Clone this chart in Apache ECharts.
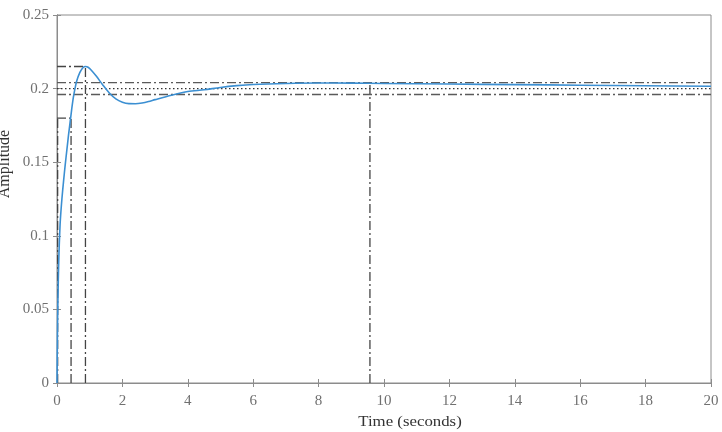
<!DOCTYPE html>
<html>
<head>
<meta charset="utf-8">
<script src="https://cdn.jsdelivr.net/npm/echarts@6/dist/echarts.min.js"></script>
<style>
html,body{margin:0;padding:0;background:#fff;}
#chart{width:722px;height:432px;}
</style>
</head>
<body>
<div id="chart"></div>
<script>
// ---- data ----
const time = [0, 0.01, 0.02, 0.04, 0.06, 0.08, 0.1, 0.15, 0.2, 0.25, 0.3, 0.35, 0.4, 0.45, 0.5, 0.55, 0.6, 0.7, 0.8, 0.87, 0.95, 1.05, 1.2, 1.4, 1.6, 1.8, 2.0, 2.2, 2.4, 2.6, 2.8, 3.0, 3.5, 4.0, 4.5, 5.0, 5.5, 6.0, 7.0, 8.0, 9.0, 10, 12, 14, 16, 18, 20];
const amplitude = [0, 0.025, 0.045, 0.07, 0.088, 0.1, 0.11, 0.125, 0.137, 0.148, 0.158, 0.168, 0.177, 0.186, 0.194, 0.2, 0.205, 0.211, 0.2143, 0.215, 0.2145, 0.2125, 0.2085, 0.2025, 0.197, 0.193, 0.1908, 0.1898, 0.1897, 0.1902, 0.1912, 0.1925, 0.1955, 0.198, 0.1992, 0.2008, 0.202, 0.2028, 0.2035, 0.2038, 0.2037, 0.2035, 0.2031, 0.2027, 0.2023, 0.2019, 0.2016];
const xTicks = [0, 2, 4, 6, 8, 10, 12, 14, 16, 18, 20];
const yTicks = [0, 0.05, 0.1, 0.15, 0.2, 0.25];
const riseStart = 0.02, riseEnd = 0.43, riseLevel = 0.18;
const peakTime = 0.87, peakValue = 0.215;
const settleTime = 9.57;
const finalValue = 0.2, bandUpper = 0.204, bandLower = 0.196;
const xLabel = 'Time (seconds)';
const yLabel = 'Amplitude';

const dashDot = [9, 3, 2, 3];
const refColor = '#444';
function ref(points, type, color, width) {
  return {
    type: 'line', data: points, symbol: 'none', silent: true, z: 2,
    lineStyle: {color: color || refColor, width: width || 1.3, type: type}
  };
}
const font = '"Liberation Serif","Times New Roman",serif';
const axisCol = '#8c8c8c';
const labelCol = '#707070';
const chart = echarts.init(document.getElementById('chart'), null, {renderer: 'canvas'});
const baseX = {
  type: 'value', min: xTicks[0], max: xTicks[xTicks.length - 1], interval: 2,
  splitLine: {show: false},
  axisLine: {show: true, lineStyle: {color: axisCol, width: 1}},
  axisTick: {show: true, inside: true, length: 4, lineStyle: {color: axisCol}},
};
const baseY = {
  type: 'value', min: yTicks[0], max: yTicks[yTicks.length - 1], interval: 0.05,
  splitLine: {show: false},
  axisLine: {show: true, lineStyle: {color: axisCol, width: 1}},
  axisTick: {show: true, inside: true, length: 4, lineStyle: {color: axisCol}},
};
chart.setOption({
  animation: false,
  backgroundColor: '#fff',
  grid: {left: 57, right: 11, top: 15, bottom: 49, show: true, borderColor: axisCol, borderWidth: 1},
  xAxis: [
    Object.assign({}, baseX, {position: 'bottom', axisLabel: {color: labelCol, fontFamily: font, fontSize: 15, margin: 11}}),
    Object.assign({}, baseX, {position: 'top', axisLabel: {show: false}})
  ],
  yAxis: [
    Object.assign({}, baseY, {position: 'left', axisLabel: {color: labelCol, fontFamily: font, fontSize: 15, margin: 8}}),
    Object.assign({}, baseY, {position: 'right', axisLabel: {show: false}})
  ],
  graphic: [
    {type: 'text', x: 410, y: 422, scaleX: 1.12, style: {text: xLabel, fill: '#333', font: '15px ' + font, align: 'center', verticalAlign: 'middle'}},
    {type: 'text', x: 5, y: 164, rotation: Math.PI / 2, style: {text: yLabel, fill: '#333', font: '16px ' + font, align: 'center', verticalAlign: 'middle'}}
  ],
  series: [
    ref([[xTicks[0], bandUpper], [xTicks[xTicks.length - 1], bandUpper]], dashDot, '#5a5a5a'),
    ref([[xTicks[0], bandLower], [xTicks[xTicks.length - 1], bandLower]], dashDot, '#5a5a5a'),
    ref([[xTicks[0], finalValue], [xTicks[xTicks.length - 1], finalValue]], [1.5, 2.5], '#333', 1.1),
    ref([[riseStart, 0], [riseStart, riseLevel]], dashDot),
    ref([[0, riseLevel], [riseEnd, riseLevel]], dashDot),
    ref([[riseEnd, 0], [riseEnd, riseLevel]], dashDot),
    ref([[0, peakValue], [peakTime, peakValue]], dashDot),
    ref([[peakTime, 0], [peakTime, peakValue]], dashDot),
    ref([[settleTime, 0], [settleTime, bandUpper]], dashDot),
    {
      type: 'line', data: time.map((t, i) => [t, amplitude[i]]), symbol: 'none', smooth: 0.3, z: 3,
      lineStyle: {color: '#3b8fd2', width: 1.6}
    }
  ]
});
</script>
</body>
</html>
